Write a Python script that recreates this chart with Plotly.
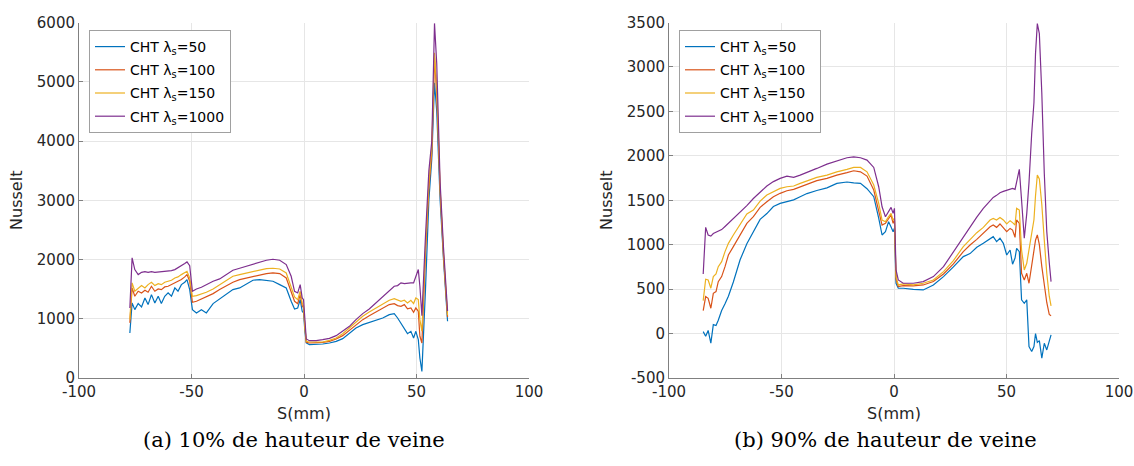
import plotly.graph_objects as go

# ---------------- data: (a) 10% de hauteur de veine ----------------
x_left = [
    -77.4, -76.4, -75.2, -73.7, -72.2, -70.7, -69.3, -67.8, -66.3, -64.8,
    -63.4, -61.9, -60.4, -58.9, -57.4, -56.0, -54.5, -53.0, -52.0, -50.8,
    -49.6, -47.8, -45.6, -43.4, -40.4, -37.5, -34.5, -31.6, -28.6, -25.6,
    -22.7, -19.7, -16.7, -13.8, -10.8, -7.9, -5.7, -4.2, -2.8, -1.7,
    -0.8, -0.2, 0.4, 1.0, 2.4, 5.4, 8.3, 11.3, 14.3, 17.2,
    20.2, 23.1, 26.1, 29.0, 32.0, 35.0, 37.9, 40.1, 41.6, 43.1,
    44.6, 46.0, 47.5, 48.7, 49.7, 50.8, 51.5, 52.4, 54.0, 55.5,
    56.8, 58.0, 59.0, 60.5, 62.0, 63.8,
]
nu_left_50 = [
    760, 1267, 1154, 1256, 1200, 1351, 1239, 1407, 1267, 1379,
    1256, 1379, 1436, 1379, 1520, 1464, 1576, 1616, 1661, 1492,
    1154, 1098, 1154, 1098, 1256, 1334, 1407, 1492, 1520, 1593,
    1650, 1661, 1644, 1633, 1576, 1520, 1295, 1165, 1182, 1323,
    1126, 1098, 788, 591, 563, 563, 574, 591, 619, 664,
    748, 844, 901, 940, 985, 1013, 1070, 1087, 1013, 929,
    844, 748, 788, 676, 788, 647, 337, 112, 1500, 3000,
    3700, 4983, 4500, 3000, 2000, 957,
]
nu_left_100 = [
    930, 1520, 1379, 1464, 1436, 1481, 1447, 1548, 1464, 1503,
    1492, 1537, 1548, 1576, 1593, 1633, 1661, 1706, 1745, 1633,
    1278, 1295, 1334, 1368, 1424, 1492, 1560, 1616, 1661, 1689,
    1717, 1745, 1762, 1773, 1762, 1689, 1464, 1295, 1255, 1407,
    1222, 1182, 872, 602, 591, 591, 602, 619, 659, 715,
    805, 901, 985, 1052, 1115, 1182, 1239, 1255, 1222, 1211,
    1239, 1166, 1182, 1110, 1182, 1126, 704, 591, 2100, 3200,
    3800, 5400, 4800, 3150, 2050, 1030,
]
nu_left_150 = [
    985, 1605, 1464, 1520, 1560, 1520, 1576, 1616, 1560, 1593,
    1576, 1616, 1633, 1650, 1689, 1706, 1745, 1773, 1801, 1689,
    1379, 1390, 1418, 1447, 1503, 1576, 1650, 1717, 1745, 1773,
    1801, 1829, 1846, 1852, 1840, 1773, 1548, 1368, 1323, 1464,
    1267, 1211, 844, 619, 608, 608, 608, 636, 676, 748,
    844, 940, 1041, 1115, 1182, 1239, 1312, 1340, 1323, 1295,
    1312, 1267, 1312, 1256, 1351, 1323, 985, 790, 2200, 3300,
    3900, 5490, 4900, 3200, 2100, 1060,
]
nu_left_1000 = [
    1182, 2027, 1829, 1745, 1784, 1795, 1784, 1795, 1784, 1790,
    1784, 1795, 1801, 1812, 1829, 1858, 1886, 1931, 1959, 1897,
    1464, 1503, 1531, 1576, 1633, 1672, 1745, 1818, 1852, 1886,
    1914, 1953, 1987, 2004, 1987, 1914, 1717, 1464, 1436, 1576,
    1351, 1323, 985, 659, 630, 630, 647, 670, 715, 788,
    872, 985, 1087, 1166, 1267, 1368, 1464, 1548, 1560, 1605,
    1593, 1605, 1605, 1605, 1716, 1830, 1548, 1050, 2400, 3500,
    4000, 5985, 5300, 3300, 2200, 1130,
]

# ---------------- data: (b) 90% de hauteur de veine ----------------
x_right = [
    -84.8, -83.7, -82.6, -81.4, -80.3, -79.1, -78.1, -76.6, -75.1, -73.6,
    -71.4, -68.4, -65.4, -62.5, -59.5, -56.5, -53.6, -50.6, -47.6, -44.6,
    -41.7, -38.7, -34.3, -29.8, -25.4, -20.9, -17.9, -14.9, -12.0, -9.0,
    -6.8, -5.3, -3.8, -2.4, -1.3, -0.4, 0.2, 0.9, 1.9, 4.1,
    8.6, 13.0, 17.5, 22.0, 26.4, 30.8, 33.8, 36.8, 39.7, 42.7,
    44.1, 45.6, 47.1, 48.6, 50.1, 51.6, 52.7, 53.8, 54.5, 55.7,
    56.7, 57.9, 59.0, 60.0, 61.2, 62.2, 62.9, 63.7, 64.6, 65.7,
    66.8, 67.9, 69.0, 69.8,
]
nu_right_50 = [
    22, -30, 35, -108, 100, 90, 150, 260, 335, 420,
    580, 830, 1010, 1140, 1285, 1350, 1430, 1465, 1485, 1505,
    1540, 1575, 1610, 1640, 1690, 1705, 1695, 1690, 1630, 1540,
    1300, 1109, 1146, 1259, 1200, 1146, 1184, 566, 510, 510,
    498, 491, 547, 641, 750, 866, 900, 970, 1015, 1070,
    1090, 1034, 1072, 1015, 884, 940, 780, 850, 959, 922,
    379, 341, 379, -146, -202, -146, 0, -100, -80, -277,
    -109, -184, -71, -15,
]
nu_right_100 = [
    258, 416, 397, 285, 453, 472, 584, 641, 753, 884,
    978, 1109, 1240, 1315, 1420, 1483, 1540, 1578, 1607, 1622,
    1652, 1678, 1720, 1746, 1783, 1810, 1832, 1820, 1772, 1615,
    1390, 1221, 1240, 1296, 1334, 1240, 1277, 611, 528, 540,
    536, 547, 585, 671, 783, 922, 997, 1060, 1127, 1202,
    1221, 1195, 1233, 1195, 1146, 1183, 1165, 1082, 1278, 1240,
    678, 603, 678, 566, 753, 903, 1050, 1110, 1000, 753,
    540, 350, 215, 200,
]
nu_right_150 = [
    371, 611, 603, 510, 641, 671, 753, 809, 922, 1015,
    1109, 1221, 1345, 1390, 1491, 1559, 1596, 1633, 1652, 1660,
    1690, 1716, 1757, 1783, 1820, 1847, 1869, 1869, 1820, 1671,
    1465, 1277, 1259, 1315, 1352, 1277, 1296, 641, 547, 558,
    547, 566, 603, 697, 821, 978, 1060, 1135, 1195, 1278,
    1296, 1278, 1307, 1278, 1233, 1270, 1248, 1221, 1409, 1390,
    940, 716, 791, 950, 1150, 1280, 1550, 1783, 1740, 1450,
    1050, 678, 420, 311,
]
nu_right_1000 = [
    671, 1195, 1109, 1097, 1125, 1139, 1145, 1170, 1205, 1240,
    1296, 1371, 1440, 1520, 1596, 1660, 1710, 1746, 1772, 1757,
    1783, 1817, 1858, 1907, 1944, 1978, 1989, 1978, 1952, 1869,
    1652, 1427, 1315, 1371, 1420, 1352, 1409, 716, 603, 566,
    566, 585, 641, 753, 922, 1090, 1200, 1310, 1409, 1490,
    1532, 1555, 1585, 1600, 1614, 1625, 1633, 1622, 1700, 1847,
    1500, 1072, 1350, 1700, 2250, 2600, 3150, 3487, 3375, 2700,
    1800, 1150, 800, 584,
]

series_labels = ["50", "100", "150", "1000"]
series_colors = ["#0072BD", "#D95319", "#EDB120", "#7E2F8E"]
left_values = [nu_left_50, nu_left_100, nu_left_150, nu_left_1000]
right_values = [nu_right_50, nu_right_100, nu_right_150, nu_right_1000]

x_ticks = [-100, -50, 0, 50, 100]
y_ticks_left = [0, 1000, 2000, 3000, 4000, 5000, 6000]
y_ticks_right = [-500, 0, 500, 1000, 1500, 2000, 2500, 3000, 3500]

captions = ["(a) 10% de hauteur de veine", "(b) 90% de hauteur de veine"]

# ---------------- figure ----------------
W, H = 1134, 466
TXT = "#262626"
AXC = "#808080"
GRID = "#e6e6e6"
SANS = "DejaVu Sans"

fig = go.Figure()
for lab, col, vals in zip(series_labels, series_colors, left_values):
    fig.add_trace(go.Scatter(x=x_left, y=vals, mode="lines",
                             name=f"CHT λ<sub>s</sub>={lab}",
                             legendgroup="L" + lab,
                             line=dict(color=col, width=1.2),
                             xaxis="x", yaxis="y", legend="legend"))
for lab, col, vals in zip(series_labels, series_colors, right_values):
    fig.add_trace(go.Scatter(x=x_right, y=vals, mode="lines",
                             name=f"CHT λ<sub>s</sub>={lab}",
                             legendgroup="R" + lab,
                             line=dict(color=col, width=1.2),
                             xaxis="x2", yaxis="y2", legend="legend2"))

ydom = [1 - 378 / H, 1 - 22.5 / H]

def xax(dom, anchor):
    return dict(domain=dom, anchor=anchor, range=[-100, 100],
                tickvals=x_ticks, ticktext=[str(v) for v in x_ticks],
                showline=True, linecolor=AXC, linewidth=1, mirror=False,
                ticks="inside", ticklen=4, tickcolor=AXC,
                showgrid=True, gridcolor=GRID, gridwidth=1, zeroline=False,
                tickfont=dict(family=SANS, size=15, color=TXT),
                title=dict(text="S(mm)", font=dict(family=SANS, size=16, color=TXT),
                           standoff=7),
                automargin=False)

def yax(rng, ticks, anchor):
    return dict(domain=ydom, anchor=anchor, range=rng,
                tickvals=ticks, ticktext=[str(v) for v in ticks],
                showline=True, linecolor=AXC, linewidth=1, mirror=False,
                ticks="inside", ticklen=4, tickcolor=AXC,
                showgrid=True, gridcolor=GRID, gridwidth=1, zeroline=False,
                tickfont=dict(family=SANS, size=15, color=TXT),
                title=dict(text="Nusselt", font=dict(family=SANS, size=16, color=TXT),
                           standoff=10),
                automargin=False)

legend_style = dict(bgcolor="white", bordercolor="#a0a0a0", borderwidth=1,
                    font=dict(family=SANS, size=14, color="#000000"),
                    xanchor="left", yanchor="top", tracegroupgap=2)

fig.update_layout(
    width=W, height=H,
    margin=dict(l=0, r=0, t=0, b=0),
    paper_bgcolor="white", plot_bgcolor="white",
    xaxis=xax([79 / W, 529 / W], "y"),
    yaxis=yax([0, 6000], y_ticks_left, "x"),
    xaxis2=xax([669 / W, 1119 / W], "y2"),
    yaxis2=yax([-500, 3500], y_ticks_right, "x2"),
    legend=dict(x=89 / W, y=1 - 30 / H, **legend_style),
    legend2=dict(x=679 / W, y=1 - 30 / H, **legend_style),
    showlegend=True,
)

for txt, cx in zip(captions, [293.5, 885]):
    fig.add_annotation(text=txt, x=cx / W, y=1 - 440 / H, xref="paper", yref="paper",
                       xanchor="center", yanchor="middle", showarrow=False,
                       font=dict(family="DejaVu Serif", size=21, color="#000000"))

fig.write_html("out.html", config={"displayModeBar": False},
               post_script="document.body.style.margin='0';")
